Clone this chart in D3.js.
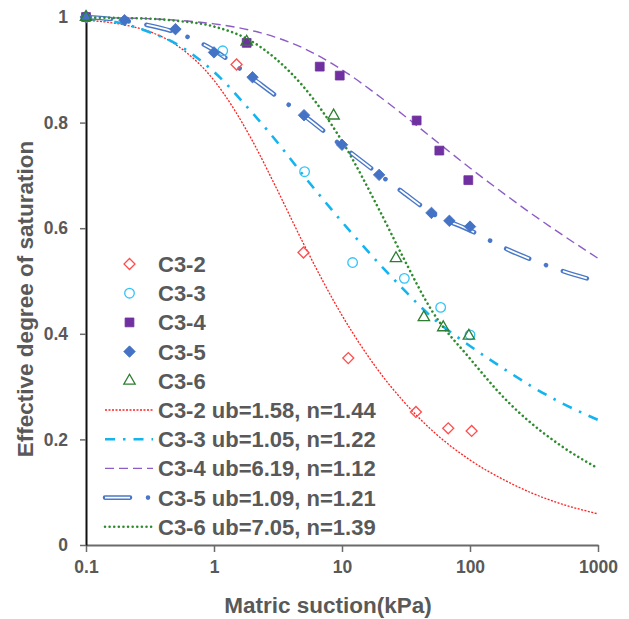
<!DOCTYPE html>
<html>
<head>
<meta charset="utf-8">
<script src="https://d3js.org/d3.v7.min.js"></script>
<style>
    body { margin: 0; background: #fff; }
    text { font-family: "Liberation Sans", Arial, sans-serif; font-weight: bold; fill: #595959; }
</style>
</head>
<body>
<svg id="chart"></svg>
<script>
// measured points
const c32Suction = [0.1, 1.5, 5.0, 11.2, 37.8, 67.6, 103];
const c32Se = [1.0, 0.910, 0.554, 0.354, 0.252, 0.221, 0.216];
const c33Suction = [0.1, 1.17, 5.1, 12.1, 30.7, 59, 100];
const c33Se = [1.0, 0.936, 0.707, 0.535, 0.505, 0.450, 0.398];
const c34Suction = [0.1, 1.8, 6.7, 9.6, 38.3, 57.6, 97];
const c34Se = [1.0, 0.951, 0.906, 0.889, 0.804, 0.747, 0.691];
const c35Suction = [0.1, 0.2, 0.5, 1.0, 2.0, 5.05, 10, 19.5, 50, 69, 100];
const c35Se = [1.0, 0.994, 0.977, 0.933, 0.886, 0.814, 0.758, 0.701, 0.629, 0.614, 0.603];
const c36Suction = [0.1, 1.8, 8.6, 26.4, 43.6, 61.8, 98];
const c36Se = [1.0, 0.953, 0.813, 0.543, 0.431, 0.412, 0.396];

// fitted curves
const fitSuction = [0.1, 0.2, 0.3, 0.5, 1, 2, 3, 5, 10, 20, 30, 50, 100, 200, 300, 500, 1000];
const fitC32 = [0.994, 0.985, 0.974, 0.948, 0.880, 0.765, 0.681, 0.571, 0.435, 0.325, 0.273, 0.218, 0.161, 0.119, 0.099, 0.079, 0.059];
const fitC33 = [0.997, 0.987, 0.973, 0.950, 0.896, 0.818, 0.768, 0.700, 0.612, 0.530, 0.485, 0.432, 0.377, 0.328, 0.301, 0.271, 0.237];
const fitC34 = [0.999, 0.998, 0.997, 0.994, 0.987, 0.974, 0.962, 0.941, 0.900, 0.848, 0.815, 0.772, 0.714, 0.659, 0.628, 0.591, 0.543];
const fitC35 = [1.0, 0.993, 0.985, 0.971, 0.937, 0.884, 0.852, 0.814, 0.756, 0.700, 0.668, 0.629, 0.596, 0.559, 0.541, 0.521, 0.499];
const fitC36 = [0.999, 0.998, 0.997, 0.993, 0.982, 0.953, 0.922, 0.868, 0.765, 0.630, 0.545, 0.445, 0.353, 0.270, 0.231, 0.190, 0.145];

const seriesNames = ["C3-2", "C3-3", "C3-4", "C3-5", "C3-6"];
const fitNames = [
    "C3-2 ub=1.58, n=1.44",
    "C3-3 ub=1.05, n=1.22",
    "C3-4 ub=6.19, n=1.12",
    "C3-5 ub=1.09, n=1.21",
    "C3-6 ub=7.05, n=1.39"
];
const xTicks = [0.1, 1, 10, 100, 1000];
const yTicks = [0, 0.2, 0.4, 0.6, 0.8, 1];

const width = 629;
const height = 619;

const x = d3.scaleLog().domain([0.1, 1000]).range([86, 598]);
const y = d3.scaleLinear().domain([0, 1]).range([545, 17]);

const svg = d3.select("#chart").attr("width", width).attr("height", height);

function zip(xs, ys) {
    return xs.map(function (v, i) { return [v, ys[i]]; });
}

const markerStyles = [
    { shape: "diamond", size: 60, stroke: "#FF4D4D", fill: "none" },
    { shape: "circle", size: 72, stroke: "#33C3F7", fill: "none" },
    { shape: "square", size: 78, stroke: "#7030A0", fill: "#7030A0" },
    { shape: "diamond", size: 66, stroke: "#4472C4", fill: "#4472C4" },
    { shape: "triangle", size: 56, stroke: "#2E7D32", fill: "none" }
];

const points = [
    zip(c32Suction, c32Se),
    zip(c33Suction, c33Se),
    zip(c34Suction, c34Se),
    zip(c35Suction, c35Se),
    zip(c36Suction, c36Se)
];

const fits = [fitC32, fitC33, fitC34, fitC35, fitC36].map(function (f) { return zip(fitSuction, f); });

function symbolPath(st) {
    let type = d3.symbolSquare;
    if (st.shape === "circle") type = d3.symbolCircle;
    if (st.shape === "triangle") type = d3.symbolTriangle;
    return d3.symbol().type(type).size(st.size)();
}

function drawMarker(sel, st, px, py) {
    sel.append("path")
        .attr("d", symbolPath(st))
        .attr("transform", "translate(" + px + "," + py + ")" + (st.shape === "diamond" ? " rotate(45)" : ""))
        .attr("fill", st.fill)
        .attr("stroke", st.stroke)
        .attr("stroke-width", st.fill === "none" ? 1.3 : 0.8);
}

// line styles for the fitted curves
function styleFit(i, sel, outer) {
    if (i === 0) {
        sel.attr("stroke", "#FF2020").attr("stroke-width", 1.3).attr("stroke-dasharray", "2,1.5");
    } else if (i === 1) {
        sel.attr("stroke", "#14B4EE").attr("stroke-width", 2.6).attr("stroke-dasharray", "10,8,2.5,8");
    } else if (i === 2) {
        sel.attr("stroke", "#8E5CC6").attr("stroke-width", 1.4).attr("stroke-dasharray", "9,5");
    } else if (i === 3) {
        if (outer) {
            sel.attr("stroke", "#4A78C8").attr("stroke-width", 4.6)
                .attr("stroke-linecap", "round").attr("stroke-dasharray", "25,18,0.01,18");
        } else {
            sel.attr("stroke", "#fff").attr("stroke-width", 1.8).attr("stroke-dasharray", "25,18,0.01,18");
        }
    } else {
        sel.attr("stroke", "#2E8B2E").attr("stroke-width", 2.6)
            .attr("stroke-linecap", "round").attr("stroke-dasharray", "0.01,4.6");
    }
}

// axes
const xAxis = svg.append("g")
    .attr("transform", "translate(0,545)")
    .call(d3.axisBottom(x).tickValues(xTicks).tickSize(7).tickSizeOuter(0).tickPadding(9)
        .tickFormat(function (d) { return String(d); }));

const yAxis = svg.append("g")
    .attr("transform", "translate(86,0)")
    .call(d3.axisLeft(y).tickValues(yTicks).tickSize(6).tickSizeOuter(0).tickPadding(12)
        .tickFormat(function (d) { return String(d); }));

xAxis.select(".domain").attr("stroke", "#6b6b6b").attr("stroke-width", 2);
xAxis.selectAll(".tick line").attr("stroke", "#6b6b6b").attr("stroke-width", 1.5);
yAxis.select(".domain").attr("stroke", "#111").attr("stroke-width", 2);
yAxis.selectAll(".tick line").attr("stroke", "#6b6b6b").attr("stroke-width", 1.5);
svg.selectAll(".tick text").attr("font-size", 17.5).attr("font-family", null).attr("fill", null);

// fitted curves
const line = d3.line()
    .x(function (d) { return x(d[0]); })
    .y(function (d) { return y(d[1]); })
    .curve(d3.curveMonotoneX);

const curves = svg.append("g").attr("class", "fits");
fits.forEach(function (f, i) {
    const p = curves.append("path").datum(f).attr("fill", "none").attr("d", line);
    styleFit(i, p, true);
    if (i === 3) {
        styleFit(i, curves.append("path").datum(f).attr("fill", "none").attr("d", line), false);
    }
});

// measured points
const marks = svg.append("g").attr("class", "points");
points.forEach(function (pts, i) {
    const g = marks.append("g");
    pts.forEach(function (d) {
        drawMarker(g, markerStyles[i], x(d[0]), y(d[1]));
    });
});

// legend
const legend = svg.append("g").attr("class", "legend");
const rowStart = 264;
const rowStep = 29.2;

seriesNames.forEach(function (name, i) {
    const ry = rowStart + i * rowStep;
    drawMarker(legend, markerStyles[i], 129.5, ry);
    legend.append("text").attr("x", 158).attr("y", ry).attr("dy", "0.36em")
        .attr("font-size", 22).text(name);
});

fitNames.forEach(function (name, i) {
    const ry = rowStart + (i + 5) * rowStep;
    const seg = "M105," + ry + "H153";
    styleFit(i, legend.append("path").attr("d", seg).attr("fill", "none"), true);
    if (i === 3) {
        styleFit(i, legend.append("path").attr("d", seg).attr("fill", "none"), false);
    }
    legend.append("text").attr("x", 158).attr("y", ry).attr("dy", "0.36em")
        .attr("font-size", 22).text(name);
});

// axis titles
svg.append("text")
    .attr("x", 328).attr("y", 613)
    .attr("text-anchor", "middle")
    .attr("font-size", 22.5)
    .text("Matric suction(kPa)");

svg.append("text")
    .attr("transform", "translate(33,299) rotate(-90)")
    .attr("text-anchor", "middle")
    .attr("font-size", 22.5)
    .text("Effective degree of saturation");
</script>
</body>
</html>
